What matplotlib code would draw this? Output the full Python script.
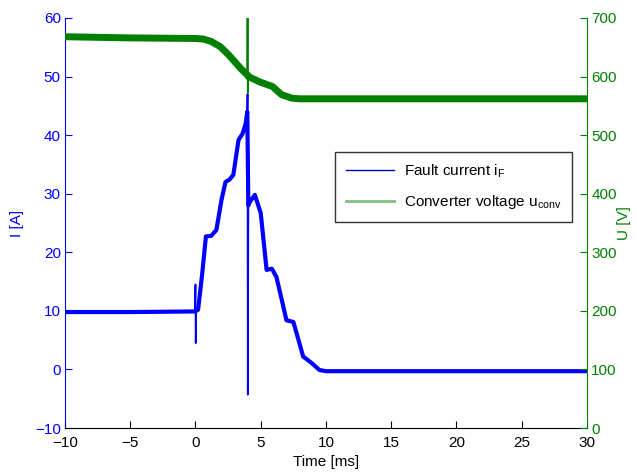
import matplotlib
matplotlib.use("Agg")
import matplotlib.pyplot as plt
from matplotlib.lines import Line2D

plt.rcParams['font.family'] = ['Liberation Sans', 'DejaVu Sans']
plt.rcParams['font.size'] = 11

# ── data ─────────────────────────────────────────────────────────────────────
# fault current, smooth part
t_current = [-10, -5, 0.0, 0.2, 0.5, 0.8, 1.2, 1.6, 2.0, 2.3, 2.6, 2.9, 3.3,
             3.6, 3.85, 3.97, 4.05, 4.1, 4.55, 5.0, 5.45, 5.85, 6.2, 6.6,
             6.97, 7.5, 7.9, 8.25, 8.9, 9.5, 10, 20, 30]
i_fault = [9.8, 9.8, 9.9, 10.2, 16, 22.7, 22.8, 23.8, 29, 32, 32.4, 33.2,
           39.2, 40.2, 42, 44, 28, 28.4, 29.8, 26.7, 17, 17.2, 15.8, 12, 8.4,
           8.1, 5, 2.2, 1.1, -0.1, -0.3, -0.3, -0.3]
# fault current, switching spikes
t_spike_i = [-0.05, 0.0, 0.02, 0.05, None, 3.97, 3.99, 4.01, 4.05]
i_spike = [9.9, 14.5, 4.5, 9.8, None, 44, 47, -4.3, 28]

# converter voltage, smooth part
t_voltage = [-10, -5, 0, 0.6, 1.2, 1.9, 2.5, 3.1, 3.5, 3.97, 4.05, 4.9, 5.9,
             6.6, 7.4, 8, 10, 20, 30]
u_conv = [668, 666, 665, 664, 660, 651, 638, 623, 613, 603, 600, 591, 583,
          569, 563, 562, 562, 562, 562]
# converter voltage, switching spike
t_spike_u = [3.97, 3.99, 4.01, 4.05]
u_spike = [603, 700, 572, 600]

x_ticks = [-10, -5, 0, 5, 10, 15, 20, 25, 30]
i_ticks = [-10, 0, 10, 20, 30, 40, 50, 60]
u_ticks = [0, 100, 200, 300, 400, 500, 600, 700]

blue = '#0000ff'
green = '#008000'

# ── figure ───────────────────────────────────────────────────────────────────
fig = plt.figure(figsize=(6.37, 4.72), dpi=100)
ax = fig.add_axes([0.102, 0.0932, 0.8195, 0.8687])
ax2 = ax.twinx()

ax.plot(t_current, i_fault, color=blue, lw=3.0)
ax.plot([t if t is not None else float('nan') for t in t_spike_i],
        [v if v is not None else float('nan') for v in i_spike],
        color=blue, lw=1.3)
ax2.plot(t_voltage, u_conv, color=green, lw=5.0)
ax2.plot(t_spike_u, u_spike, color=green, lw=1.3)

ax.set_xlim(-10, 30)
ax.set_ylim(-10, 60)
ax2.set_ylim(0, 700)
ax.set_xticks(x_ticks)
ax.set_yticks(i_ticks)
ax2.set_yticks(u_ticks)

ax.set_xlabel('Time [ms]', labelpad=3)
ax.set_ylabel('I [A]', color=blue, labelpad=8)
ax2.set_ylabel('U [V]', color=green, rotation=90, labelpad=0)

for a in (ax, ax2):
    a.spines['top'].set_visible(False)
ax.spines['right'].set_visible(False)
ax.spines['left'].set_color(blue)
ax2.spines['left'].set_visible(False)
ax2.spines['right'].set_color(green)
ax2.spines['bottom'].set_visible(False)

ax.tick_params(axis='x', direction='in', length=5, colors='black', pad=6)
ax.tick_params(axis='y', direction='in', length=5, colors=blue, pad=3)
ax2.tick_params(axis='y', direction='in', length=5, colors=green, pad=3)

handles = [Line2D([], [], color='#0000cc', lw=1.0),
           Line2D([], [], color='#80c080', lw=2.0)]
labels = ['Fault current i$_\\mathregular{F}$',
          'Converter voltage u$_\\mathregular{conv}$']
leg = ax2.legend(handles, labels, loc='upper left',
                 bbox_to_anchor=(0.517, 0.673), borderaxespad=0,
                 frameon=True, fancybox=False, edgecolor='black',
                 handlelength=3.2, borderpad=0.7, labelspacing=0.85,
                 handletextpad=0.6)
leg.get_frame().set_linewidth(1.0)

plt.savefig('out.png', dpi=100)
